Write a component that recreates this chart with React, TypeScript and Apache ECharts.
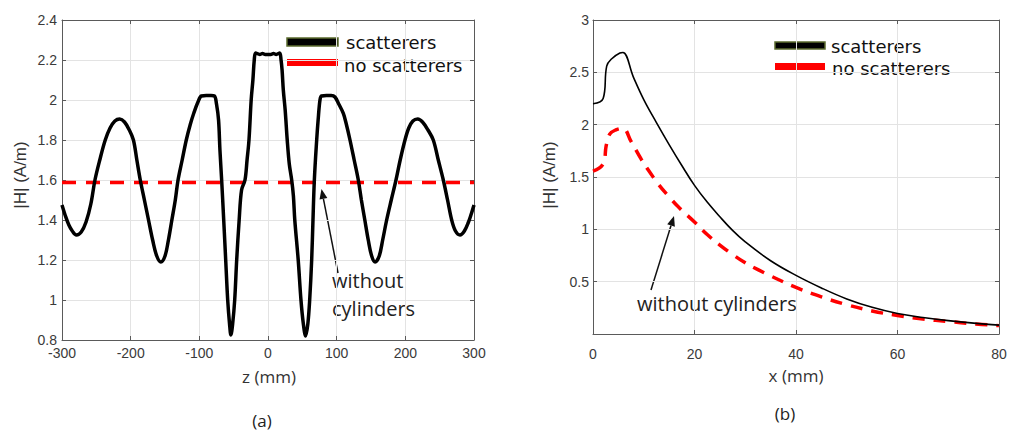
import React, { useEffect, useRef } from "react";
import * as echarts from "echarts";

// (a) |H| along z, with scatterers
const zScat = [-300, -295, -290, -285, -279, -272, -265, -258, -252, -245, -237, -230, -223, -216, -209, -202, -196, -191, -186, -180, -174, -168, -162, -156, -150, -145, -140, -135, -131, -125, -119, -113, -108, -102, -97, -90, -83, -78, -75, -72, -70, -67.5, -64.5, -61.6, -58.7, -56, -54, -51.5, -48.5, -45.6, -42, -38.5, -33.5, -30.5, -27.7, -24.5, -22, -20, -18, -12, -8, -4, 0, 4, 8, 12, 17, 19, 20.5, 22.3, 25, 28, 31, 34.5, 37, 39, 44, 48, 51.5, 54.8, 58, 60.7, 63.6, 65.5, 67.5, 70.9, 73, 75.7, 78, 85, 92, 97.5, 103, 109.7, 114, 119.4, 125.5, 131.5, 136, 141, 146, 151, 156, 162, 167, 172.8, 179.5, 186.4, 192.5, 199.5, 205, 211, 218, 225, 233, 240.7, 248, 255.3, 261.5, 267.5, 273, 279.6, 286, 292, 296, 300];
const hScat = [1.475, 1.42, 1.375, 1.345, 1.325, 1.34, 1.39, 1.48, 1.6, 1.7, 1.8, 1.86, 1.895, 1.905, 1.89, 1.85, 1.8, 1.7, 1.6, 1.5, 1.4, 1.3, 1.22, 1.19, 1.22, 1.3, 1.4, 1.5, 1.6, 1.7, 1.8, 1.88, 1.935, 1.99, 2.02, 2.022, 2.022, 2.02, 1.98, 1.9, 1.75, 1.6, 1.4, 1.2, 1.0, 0.88, 0.825, 0.88, 1.0, 1.2, 1.4, 1.55, 1.6, 1.7, 1.8, 2.0, 2.1, 2.2, 2.235, 2.228, 2.232, 2.227, 2.228, 2.227, 2.232, 2.228, 2.235, 2.2, 2.15, 2.05, 1.95, 1.8, 1.68, 1.6, 1.52, 1.4, 1.2, 1.0, 0.88, 0.82, 0.88, 1.0, 1.2, 1.4, 1.6, 1.8, 1.9, 2.0, 2.02, 2.022, 2.022, 2.015, 1.98, 1.933, 1.88, 1.8, 1.7, 1.6, 1.5, 1.4, 1.3, 1.22, 1.19, 1.22, 1.3, 1.4, 1.5, 1.6, 1.7, 1.8, 1.86, 1.895, 1.905, 1.89, 1.85, 1.8, 1.7, 1.6, 1.5, 1.4, 1.345, 1.325, 1.345, 1.39, 1.43, 1.475];
// (a) without scatterers
const zNoScat = [-300, 300];
const hNoScat = [1.587, 1.587];

// (b) |H| along x, with scatterers
const xScat = [0, 2, 2.7, 3.7, 5.3, 5.9, 8, 10, 12.5, 15, 17.5, 20, 22.5, 25, 27.5, 30, 35, 40, 45, 50, 55, 60, 65, 70, 75, 80];
const hxScat = [2.2, 2.25, 2.56, 2.63, 2.685, 2.69, 2.45, 2.24, 2.02, 1.81, 1.61, 1.42, 1.26, 1.12, 0.99, 0.88, 0.7, 0.56, 0.44, 0.335, 0.255, 0.196, 0.158, 0.128, 0.104, 0.085];
// (b) without scatterers
const xNoScat = [0, 2, 2.6, 3.3, 4.5, 5.9, 7.5, 9.5, 11, 12.9, 15, 16.8, 20, 22.5, 25, 27.5, 30, 32.5, 35, 40, 45, 50, 55, 60, 65, 70, 75, 80];
const hxNoScat = [1.555, 1.625, 1.8, 1.91, 1.95, 1.965, 1.84, 1.67, 1.56, 1.43, 1.31, 1.215, 1.07, 0.95, 0.85, 0.76, 0.68, 0.615, 0.555, 0.445, 0.355, 0.28, 0.22, 0.177, 0.143, 0.12, 0.097, 0.08];

const zTicks = { min: -300, max: 300, interval: 100 };
const hTicksA = { min: 0.8, max: 2.4, interval: 0.2 };
const xTicks = { min: 0, max: 80, interval: 20 };
const hTicksB = { min: 0, max: 3, interval: 0.5 };

const legendNames = ["scatterers", "no scatterers"];

const zip = (a: number[], b: number[]) => a.map((v, i) => [v, b[i]]);

const CAL = '"Open Sans", "Noto Sans", sans-serif';
const DEJA = '"DejaVu Sans", sans-serif';
const ARIAL = '"Liberation Sans", Arial, sans-serif';
const AXIS_COLOR = "#5a5a5a";
const GRID_COLOR = "#e3e3e3";

function txt(x: number, y: number, text: string, size: number, family: string, fill: string, align = "left", rotation = 0) {
  return {
    type: "text", x, y, rotation,
    style: { text, fontSize: size, fontFamily: family, fill, align, verticalAlign: "middle", lineHeight: size },
  };
}

function arrow(x1: number, y1: number, x2: number, y2: number) {
  const dx = x2 - x1, dy = y2 - y1;
  const len = Math.sqrt(dx * dx + dy * dy);
  const ux = dx / len, uy = dy / len;
  const hl = 10, hw = 4;
  const bx = x2 - ux * hl, by = y2 - uy * hl;
  return [
    { type: "line", shape: { x1, y1, x2: bx, y2: by }, style: { stroke: "#111", lineWidth: 1.5 } },
    {
      type: "polygon",
      shape: { points: [[x2, y2], [bx - uy * hw, by + ux * hw], [bx + uy * hw, by - ux * hw]] },
      style: { fill: "#111" },
    },
  ];
}

function mainX(gi: number, t: any, margin: number) {
  return {
    type: "value", gridIndex: gi, position: "bottom", ...t,
    axisLine: { show: true, onZero: false, lineStyle: { color: AXIS_COLOR, width: 1 } },
    axisTick: { show: true, inside: true, length: 4, lineStyle: { color: AXIS_COLOR } },
    axisLabel: { color: "#3a3a3a", fontSize: 14, fontFamily: ARIAL, margin },
    splitLine: { show: true, lineStyle: { color: GRID_COLOR, width: 1 } },
  };
}
function sideAxis(gi: number, t: any, position: string) {
  return {
    type: "value", gridIndex: gi, position, ...t,
    axisLine: { show: true, onZero: false, lineStyle: { color: AXIS_COLOR, width: 1 } },
    axisTick: { show: true, inside: true, length: 4, lineStyle: { color: AXIS_COLOR } },
    axisLabel: { show: false },
    splitLine: { show: false },
  };
}
function mainY(gi: number, t: any, margin: number, fmt?: (v: number) => string) {
  return {
    type: "value", gridIndex: gi, position: "left", ...t,
    axisLine: { show: true, onZero: false, lineStyle: { color: AXIS_COLOR, width: 1 } },
    axisTick: { show: true, inside: true, length: 4, lineStyle: { color: AXIS_COLOR } },
    axisLabel: { color: "#3a3a3a", fontSize: 14, fontFamily: ARIAL, margin, formatter: fmt },
    splitLine: { show: true, lineStyle: { color: GRID_COLOR, width: 1 } },
  };
}

export default function App() {
  const ref = useRef<HTMLDivElement>(null);
  useEffect(() => {
    if (!ref.current) return;
    const chart = echarts.init(ref.current, undefined, { renderer: "svg" });
    const option: any = {
      animation: false,
      backgroundColor: "#ffffff",
      grid: [
        { left: 62, top: 20, width: 412, height: 320 },
        { left: 593, top: 20, width: 406, height: 314 },
      ],
      xAxis: [
        mainX(0, zTicks, 6),
        sideAxis(0, zTicks, "top"),
        mainX(1, xTicks, 13),
        sideAxis(1, xTicks, "top"),
      ],
      yAxis: [
        mainY(0, hTicksA, 5),
        sideAxis(0, hTicksA, "right"),
        mainY(1, hTicksB, 4, (v: number) => (v === 0 ? "" : String(v))),
        sideAxis(1, hTicksB, "right"),
      ],
      series: [
        {
          type: "line", xAxisIndex: 0, yAxisIndex: 0, data: zip(zNoScat, hNoScat),
          showSymbol: false, lineStyle: { color: "#ff0000", width: 3.5, type: [14, 10] }, z: 2,
        },
        {
          type: "line", xAxisIndex: 0, yAxisIndex: 0, data: zip(zScat, hScat),
          showSymbol: false, smooth: 0.35,
          lineStyle: { color: "#000000", width: 3.5 }, z: 3,
        },
        {
          type: "line", xAxisIndex: 2, yAxisIndex: 2, data: zip(xNoScat, hxNoScat),
          showSymbol: false, smooth: 0.4,
          lineStyle: { color: "#ff0000", width: 3.5, type: [12, 9] }, z: 2,
        },
        {
          type: "line", xAxisIndex: 2, yAxisIndex: 2, data: zip(xScat, hxScat),
          showSymbol: false, smooth: 0.4,
          lineStyle: { color: "#000000", width: 1.6 }, z: 3,
        },
      ],
      graphic: [
        // axis names
        txt(269, 376, "z (mm)", 17, CAL, "#333", "center"),
        txt(796, 375, "x (mm)", 17, CAL, "#333", "center"),
        txt(20, 175, "|H| (A/m)", 17, ARIAL, "#333", "center", Math.PI / 2),
        txt(549, 175, "|H| (A/m)", 17, ARIAL, "#333", "center", Math.PI / 2),
        // panel labels
        txt(262, 420, "(a)", 17, CAL, "#222", "center"),
        txt(785, 413, "(b)", 17, CAL, "#222", "center"),
        // legend (a)
        { type: "rect", shape: { x: 287, y: 38, width: 51, height: 8 }, style: { fill: "#000", stroke: "#5b6b2e", lineWidth: 1.5 } },
        { type: "rect", shape: { x: 287, y: 59, width: 51, height: 7 }, style: { fill: "#ff0000" } },
        txt(346, 42, legendNames[0], 18, DEJA, "#111"),
        txt(344, 65, legendNames[1], 18, DEJA, "#111"),
        // legend (b)
        { type: "rect", shape: { x: 775, y: 42, width: 50, height: 7 }, style: { fill: "#000", stroke: "#5b6b2e", lineWidth: 1.5 } },
        { type: "rect", shape: { x: 775, y: 63, width: 50, height: 7 }, style: { fill: "#ff0000" } },
        txt(831, 46.5, legendNames[0], 18, DEJA, "#111"),
        txt(832, 68, legendNames[1], 18, DEJA, "#111"),
        // annotations
        txt(332, 280, "without", 20, CAL, "#222"),
        txt(332, 308, "cylinders", 20, CAL, "#222"),
        ...arrow(338, 273, 321.5, 189),
        txt(637, 303, "without cylinders", 20, CAL, "#222"),
        ...arrow(651, 290, 674, 216),
      ],
    };
    chart.setOption(option);
    return () => chart.dispose();
  }, []);
  return <div ref={ref} style={{ position: "fixed", left: 0, top: 0, width: 1016, height: 430 }} />;
}
